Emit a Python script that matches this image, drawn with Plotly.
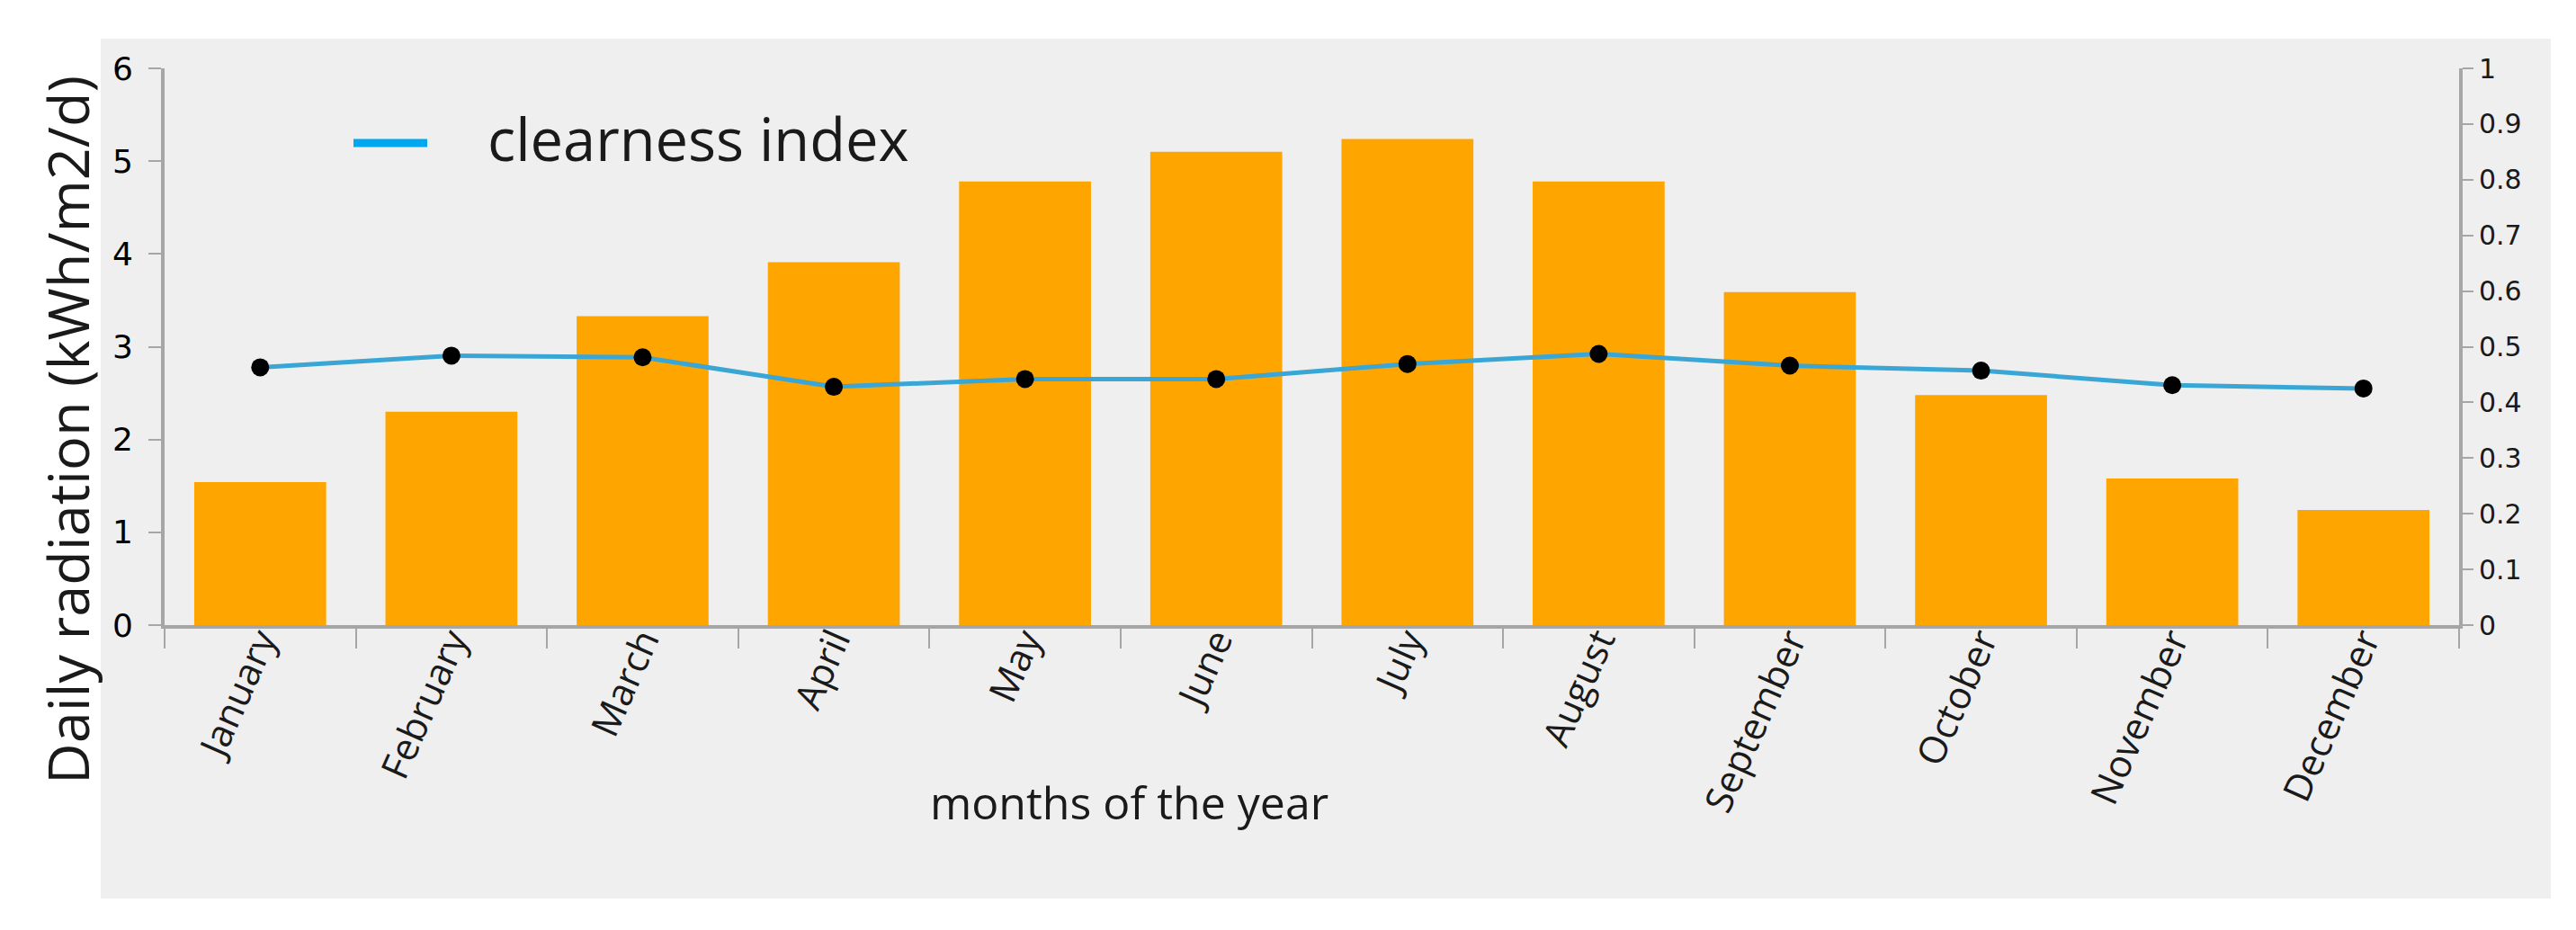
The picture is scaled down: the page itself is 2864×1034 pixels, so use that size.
import plotly.graph_objects as go

# monthly data
months = ['January', 'February', 'March', 'April', 'May', 'June',
          'July', 'August', 'September', 'October', 'November', 'December']
daily_radiation = [1.54, 2.30, 3.33, 3.91, 4.78, 5.10, 5.24, 4.78, 3.59, 2.48, 1.58, 1.24]
clearness_index = [0.463, 0.484, 0.481, 0.428, 0.442, 0.442, 0.469, 0.487, 0.466, 0.457, 0.431, 0.425]

left_ticks = [0, 1, 2, 3, 4, 5, 6]
right_ticks = [0, 0.1, 0.2, 0.3, 0.4, 0.5, 0.6, 0.7, 0.8, 0.9, 1]
right_labels = ['0', '0.1', '0.2', '0.3', '0.4', '0.5', '0.6', '0.7', '0.8', '0.9', '1']

W, H = 2864, 1034
L, R, T, B = 183, 130, 76, 339
pw, ph = W - L - R, H - T - B

def px(x):
    return (x - L) / pw

def py(y):
    return (H - B - y) / ph

axis_grey = '#a6a6a6'
text_col = '#1a1a1a'

fig = go.Figure()

# radiation bars
fig.add_trace(go.Bar(
    x=months,
    y=daily_radiation,
    marker=dict(color='#FFA500', line=dict(width=0)),
    showlegend=False,
    yaxis='y'
))

# clearness index line
fig.add_trace(go.Scatter(
    x=months,
    y=clearness_index,
    mode='lines+markers',
    line=dict(color='#3aa6d6', width=5),
    marker=dict(color='black', size=20),
    showlegend=False,
    yaxis='y2'
))

fig.update_layout(
    width=W,
    height=H,
    margin=dict(l=L, r=R, t=T, b=B),
    paper_bgcolor='white',
    plot_bgcolor='rgba(0,0,0,0)',
    bargap=0.31,
    font=dict(family='Open Sans', color=text_col),
    showlegend=False,
    xaxis=dict(
        range=[-0.5, 11.5],
        showline=True, linecolor=axis_grey, linewidth=4,
        ticks='outside', tickson='boundaries', ticklen=22,
        tickcolor=axis_grey, tickwidth=2,
        tickangle=-66, ticklabelstandoff=-28,
        tickfont=dict(family='Open Sans', size=42, color=text_col),
        showgrid=False, zeroline=False
    ),
    yaxis=dict(
        range=[0, 6], tickvals=left_ticks,
        showline=True, linecolor=axis_grey, linewidth=4,
        ticks='outside', ticklen=14, tickcolor=axis_grey, tickwidth=2,
        ticklabelstandoff=10,
        tickfont=dict(family='DejaVu Sans', size=36, color='black'),
        showgrid=False, zeroline=False
    ),
    yaxis2=dict(
        range=[0, 1], tickvals=right_ticks, ticktext=right_labels,
        overlaying='y', side='right',
        showline=True, linecolor=axis_grey, linewidth=4,
        ticks='outside', ticklen=12, tickcolor=axis_grey, tickwidth=2,
        tickfont=dict(family='DejaVu Sans', size=30, color=text_col),
        showgrid=False, zeroline=False
    ),
    shapes=[
        # grey panel behind the chart
        dict(type='rect', xref='paper', yref='paper', layer='below',
             x0=px(112), x1=px(2836), y0=py(999), y1=py(43),
             fillcolor='#efefef', line=dict(width=0)),
        # legend sample line
        dict(type='line', xref='paper', yref='paper',
             x0=px(393), x1=px(475), y0=py(159), y1=py(159),
             line=dict(color='#00a8f0', width=9)),
    ],
    annotations=[
        dict(text='clearness index', xref='paper', yref='paper',
             x=px(540), y=py(154), showarrow=False,
             xanchor='left', yanchor='middle',
             font=dict(family='Open Sans', size=65, color=text_col)),
        dict(text='Daily radiation (kWh/m2/d)', xref='paper', yref='paper',
             x=px(74), y=py(478), textangle=-90, showarrow=False,
             xanchor='center', yanchor='middle',
             font=dict(family='Open Sans', size=63, color=text_col)),
        dict(text='months of the year', xref='paper', yref='paper',
             x=px(1255), y=py(892), showarrow=False,
             xanchor='center', yanchor='middle',
             font=dict(family='Open Sans', size=50, color=text_col)),
    ]
)

fig.write_html("out.html", config={'displayModeBar': False},
               post_script="document.body.style.margin='0px';")
